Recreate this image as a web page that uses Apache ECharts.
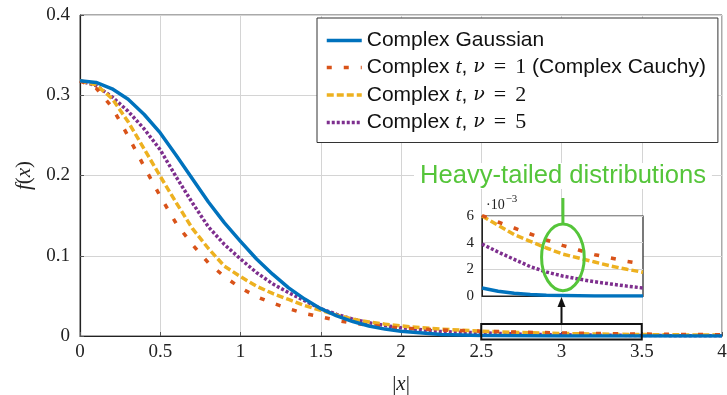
<!DOCTYPE html>
<html>
<head>
<meta charset="utf-8">
<script src="https://cdn.jsdelivr.net/npm/echarts@6/dist/echarts.min.js"></script>
<style>
  html, body { margin: 0; padding: 0; background: #fff; }
  #chart { width: 727px; height: 395px; }
</style>
</head>
<body>
<div id="chart"></div>
<script>
// main plot, |x| from 0 to 4
var xMain = [0, 0.1, 0.2, 0.3, 0.4, 0.5, 0.6, 0.7, 0.8, 0.9, 1.0, 1.1, 1.2, 1.3, 1.4, 1.5, 1.6, 1.7, 1.8, 1.9, 2.0,
  2.25, 2.5, 2.75, 3.0, 3.25, 3.5, 3.75, 4.0];
var gaussMain = [0.318, 0.316, 0.308, 0.295, 0.276, 0.253, 0.225, 0.196, 0.167, 0.141, 0.118, 0.096, 0.077, 0.060, 0.046, 0.034, 0.025, 0.018, 0.0125, 0.0086, 0.006,
  0.002, 0.0006, 0.0002, 0.00004, 0, 0, 0, 0];
var cauchyMain = [0.318, 0.309, 0.285, 0.249, 0.211, 0.174, 0.140, 0.114, 0.091, 0.074, 0.060, 0.049, 0.041, 0.034, 0.028, 0.024, 0.0195, 0.016, 0.0135, 0.0115, 0.0098,
  0.0075, 0.006, 0.0048, 0.0038, 0.003, 0.0024, 0.002, 0.0016];
var t2Main = [0.318, 0.313, 0.296, 0.267, 0.233, 0.199, 0.166, 0.134, 0.109, 0.087, 0.074, 0.062, 0.053, 0.0455, 0.038, 0.032, 0.026, 0.021, 0.0175, 0.0148, 0.0125,
  0.0085, 0.006, 0.0043, 0.0031, 0.0024, 0.0018, 0.0014, 0.0011];
var t5Main = [0.318, 0.312, 0.298, 0.280, 0.258, 0.232, 0.198, 0.166, 0.136, 0.114, 0.096, 0.079, 0.065, 0.054, 0.044, 0.034, 0.027, 0.021, 0.0165, 0.013, 0.0102,
  0.0055, 0.0039, 0.0023, 0.0015, 0.001, 0.0006, 0.0004, 0.0003];

// inset, |x| from 2.5 to 3.5, values in units of 1e-3
var xInset = [2.5, 2.6, 2.7, 2.8, 2.9, 3.0, 3.1, 3.2, 3.3, 3.4, 3.5];
var gaussInset = [0.6, 0.36, 0.21, 0.12, 0.06, 0.03, 0.01, 0, 0, 0, 0];
var cauchyInset = [6.05, 5.55, 5.1, 4.65, 4.2, 3.8, 3.45, 3.1, 2.85, 2.6, 2.4];
var t2Inset = [6.0, 5.3, 4.6, 4.1, 3.6, 3.15, 2.85, 2.55, 2.25, 2.0, 1.78];
var t5Inset = [3.9, 3.3, 2.75, 2.2, 1.8, 1.5, 1.27, 1.07, 0.9, 0.74, 0.6];
var insetGridX = [2.6, 2.8, 3.0, 3.2, 3.4];

var names = ['Complex Gaussian', 'Complex t, ν = 1 (Complex Cauchy)', 'Complex t, ν = 2', 'Complex t, ν = 5'];
var colors = ['#0072BD', '#D95319', '#EDB120', '#7E2F8E'];
var dashes = ['solid', [5, 12], [7, 3], [3, 2]];

// annotation anchors (data units)
var zoomBox = [2.5, 3.5, -0.0045, 0.015];
var ellipseBox = [2.87, 3.135, 0.4, 5.4];

function pairs(xs, ys) {
  var out = [];
  for (var i = 0; i < xs.length; i++) out.push([xs[i], ys[i]]);
  return out;
}

var serif = '"Liberation Serif", "DejaVu Serif", serif';
var sans = '"Liberation Sans", Arial, sans-serif';

function legendText(name) {
  if (name.indexOf('Complex t') === 0) {
    var rest = name.substring(name.indexOf('=') + 1).trim();
    var num = rest.split(' ')[0];
    var tail = rest.substring(num.length);
    return '{s|Complex }{m|t}{s|, }{g|ν}{e|=}{n|' + num + '}{s|' + tail + '}';
  }
  return '{s|' + name + '}';
}

var mainData = [gaussMain, cauchyMain, t2Main, t5Main];
var insetData = [gaussInset, cauchyInset, t2Inset, t5Inset];

var series = [];
for (var k = 0; k < 4; k++) {
  series.push({
    name: names[k],
    type: 'line',
    xAxisIndex: 0,
    yAxisIndex: 0,
    data: pairs(xMain, mainData[k]),
    symbol: 'none',
    smooth: false,
    z: 5 - k,
    lineStyle: { color: colors[k], width: 3.5, type: dashes[k], cap: 'butt', join: 'round' },
    itemStyle: { color: colors[k] }
  });
}
for (var k2 = 0; k2 < 4; k2++) {
  series.push({
    name: names[k2],
    type: 'line',
    xAxisIndex: 1,
    yAxisIndex: 1,
    data: pairs(xInset, insetData[k2]),
    symbol: 'none',
    smooth: false,
    z: 15 - k2,
    lineStyle: { color: colors[k2], width: 3.5, type: dashes[k2], cap: 'butt', join: 'round' },
    itemStyle: { color: colors[k2] }
  });
}
// vertical grid lines of the inset
series.push({
  type: 'line',
  xAxisIndex: 1,
  yAxisIndex: 1,
  data: [],
  z: 11,
  markLine: {
    silent: true,
    symbol: 'none',
    label: { show: false },
    lineStyle: { color: '#d4d4d4', width: 1, type: 'solid' },
    data: insetGridX.map(function (v) { return { xAxis: v }; })
  }
});

var chart = echarts.init(document.getElementById('chart'));
chart.setOption({
  animation: false,
  backgroundColor: '#fff',
  grid: [
    { left: 80, top: 15, width: 642, height: 321, show: true, borderColor: '#555', borderWidth: 1,
      containLabel: false, outerBoundsMode: 'none' },
    { left: 482, top: 216, width: 161, height: 80, show: true, z: 10, backgroundColor: '#fff', borderColor: '#222', borderWidth: 1.2,
      containLabel: false, outerBoundsMode: 'none' }
  ],
  xAxis: [
    {
      type: 'value', gridIndex: 0, min: 0, max: 4, interval: 0.5,
      name: '{n||}{i|x}{n||}', nameLocation: 'middle', nameGap: 38,
      nameTextStyle: { rich: {
        n: { fontFamily: serif, fontSize: 21, color: '#222' },
        i: { fontFamily: serif, fontStyle: 'italic', fontSize: 21, color: '#222' }
      } },
      axisLine: { lineStyle: { color: '#222', width: 1.2 } },
      axisTick: { inside: true, length: 4, lineStyle: { color: '#555' } },
      axisLabel: { fontFamily: serif, fontSize: 19, color: '#222', margin: 7 },
      splitLine: { lineStyle: { color: '#d4d4d4', width: 1 } }
    },
    {
      type: 'value', gridIndex: 1, min: 2.5, max: 3.5, z: 11,
      axisLine: { lineStyle: { color: '#222' } },
      axisTick: { show: false },
      axisLabel: { show: false },
      splitLine: { show: false }
    }
  ],
  yAxis: [
    {
      type: 'value', gridIndex: 0, min: 0, max: 0.4, interval: 0.1,
      name: '{i|f}{n|(}{i|x}{n|)}', nameLocation: 'middle', nameGap: 44, nameRotate: 90,
      nameTextStyle: { rich: {
        n: { fontFamily: serif, fontSize: 21, color: '#222' },
        i: { fontFamily: serif, fontStyle: 'italic', fontSize: 21, color: '#222' }
      } },
      axisLine: { lineStyle: { color: '#222', width: 1.2 } },
      axisTick: { inside: true, length: 4, lineStyle: { color: '#555' } },
      axisLabel: { fontFamily: serif, fontSize: 19, color: '#222', margin: 10 },
      splitLine: { lineStyle: { color: '#d4d4d4', width: 1 } }
    },
    {
      type: 'value', gridIndex: 1, min: 0, max: 6, interval: 2, z: 11,
      name: '{a|·10}{b|−3}', nameLocation: 'end', nameGap: 4,
      nameTextStyle: { align: 'left', padding: [0, 0, 0, 4], rich: {
        a: { fontFamily: serif, fontSize: 14, color: '#222', verticalAlign: 'bottom' },
        b: { fontFamily: serif, fontSize: 11, color: '#222', verticalAlign: 'bottom', padding: [0, 0, 7, 1] }
      } },
      axisLine: { lineStyle: { color: '#222' } },
      axisTick: { show: false },
      axisLabel: { fontFamily: serif, fontSize: 15, color: '#222', margin: 8 },
      splitLine: { lineStyle: { color: '#d4d4d4', width: 1 } }
    }
  ],
  legend: {
    data: names,
    orient: 'vertical',
    left: 317,
    top: 18,
    itemWidth: 35,
    itemHeight: 12,
    itemGap: 5.5,
    padding: [12, 12, 9, 8],
    backgroundColor: '#fff',
    borderColor: '#333',
    borderWidth: 1,
    borderRadius: 0,
    itemStyle: { color: 'rgba(0,0,0,0)', borderColor: 'rgba(0,0,0,0)', borderWidth: 0, opacity: 0 },
    lineStyle: { width: 'inherit', type: 'inherit' },
    formatter: legendText,
    textStyle: {
      color: '#111',
      lineHeight: 21,
      rich: {
        s: { fontFamily: sans, fontSize: 21, color: '#111' },
        m: { fontFamily: serif, fontStyle: 'italic', fontSize: 22, color: '#111' },
        g: { fontFamily: '"DejaVu Serif", serif', fontStyle: 'italic', fontSize: 19, color: '#111' },
        e: { fontFamily: serif, fontSize: 22, color: '#111', padding: [0, 9, 0, 9] },
        n: { fontFamily: serif, fontSize: 22, color: '#111' }
      }
    }
  },
  series: series
});

// annotations placed with the chart's own coordinate conversion
var b0 = chart.convertToPixel({ gridIndex: 0 }, [zoomBox[0], zoomBox[3]]);
var b1 = chart.convertToPixel({ gridIndex: 0 }, [zoomBox[1], zoomBox[2]]);
var e0 = chart.convertToPixel({ gridIndex: 1 }, [ellipseBox[0], ellipseBox[3]]);
var e1 = chart.convertToPixel({ gridIndex: 1 }, [ellipseBox[1], ellipseBox[2]]);
var insetBottom = chart.convertToPixel({ gridIndex: 1 }, [3.0, 0]);
var insetTop = chart.convertToPixel({ gridIndex: 1 }, [3.0, 6]);
var midX = (b0[0] + b1[0]) / 2;
var ecx = (e0[0] + e1[0]) / 2, ecy = (e0[1] + e1[1]) / 2;

chart.setOption({
  graphic: [
    {
      type: 'rect', z: 50,
      shape: { x: b0[0], y: b0[1], width: b1[0] - b0[0], height: b1[1] - b0[1] },
      style: { fill: 'none', stroke: '#111', lineWidth: 2 }
    },
    {
      type: 'line', z: 50,
      shape: { x1: midX, y1: b0[1], x2: midX, y2: insetBottom[1] + 9 },
      style: { stroke: '#111', lineWidth: 2 }
    },
    {
      type: 'polygon', z: 50,
      shape: { points: [[midX, insetBottom[1] + 1], [midX - 4, insetBottom[1] + 11], [midX + 4, insetBottom[1] + 11]] },
      style: { fill: '#111' }
    },
    {
      type: 'ellipse', z: 50,
      shape: { cx: ecx, cy: ecy, rx: (e1[0] - e0[0]) / 2, ry: (e1[1] - e0[1]) / 2 },
      style: { fill: 'none', stroke: '#55c53a', lineWidth: 3 }
    },
    {
      type: 'line', z: 50,
      shape: { x1: ecx, y1: e0[1], x2: ecx, y2: insetTop[1] - 18 },
      style: { stroke: '#55c53a', lineWidth: 3 }
    },
    {
      type: 'text', z: 50,
      left: 414, top: 163,
      style: {
        text: 'Heavy-tailed distributions',
        font: '25.6px ' + sans,
        fill: '#55c53a',
        backgroundColor: '#fff',
        padding: [0, 6, 0, 6]
      }
    }
  ]
});
</script>
</body>
</html>
